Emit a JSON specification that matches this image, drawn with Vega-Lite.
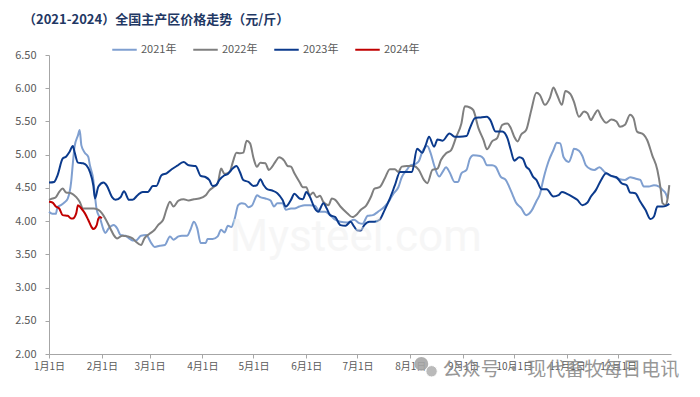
{
"$schema":"https://vega.github.io/schema/vega-lite/v6.json",
"width":622,"height":299,
"autosize":{"type":"none"},
"padding":{"left":49,"top":55,"right":29,"bottom":43},
"background":"white",
"config":{"view":{"stroke":null},"font":"Noto Sans CJK SC","axis":{"labelOverlap":false,"labelFlush":false,"grid":false,"title":null,"domainColor":"#a6a6a6","tickColor":"#a6a6a6","tickSize":4,"labelColor":"#595959"},"axisX":{"labelFontSize":10,"labelPadding":3},"axisY":{"labelFontSize":11,"labelPadding":9}},
"title":{"text":"（2021-2024）全国主产区价格走势（元/斤）","anchor":"start","frame":"group","dx":-26,"offset":9,"font":"Noto Sans CJK SC","fontSize":13,"fontWeight":"bold","color":"#1f3864"},
"datasets":{"prices":[
{"year":"2021年","day":0,"price":4.14},{"year":"2021年","day":2,"price":4.11},{"year":"2021年","day":4,"price":4.11},{"year":"2021年","day":5,"price":4.21},{"year":"2021年","day":7,"price":4.24},{"year":"2021年","day":9,"price":4.28},{"year":"2021年","day":11,"price":4.34},{"year":"2021年","day":13,"price":4.59},{"year":"2021年","day":14,"price":4.87},{"year":"2021年","day":15,"price":5.12},{"year":"2021年","day":17,"price":5.29},{"year":"2021年","day":18,"price":5.37},{"year":"2021年","day":19,"price":5.14},{"year":"2021年","day":21,"price":5.03},{"year":"2021年","day":23,"price":4.97},{"year":"2021年","day":24,"price":4.84},{"year":"2021年","day":26,"price":4.62},{"year":"2021年","day":27,"price":4.37},{"year":"2021年","day":28,"price":4.17},{"year":"2021年","day":30,"price":4.04},{"year":"2021年","day":32,"price":3.87},{"year":"2021年","day":33,"price":3.82},{"year":"2021年","day":35,"price":3.89},{"year":"2021年","day":38,"price":3.94},{"year":"2021年","day":40,"price":3.89},{"year":"2021年","day":42,"price":3.79},{"year":"2021年","day":45,"price":3.78},{"year":"2021年","day":47,"price":3.74},{"year":"2021年","day":49,"price":3.71},{"year":"2021年","day":51,"price":3.71},{"year":"2021年","day":54,"price":3.78},{"year":"2021年","day":57,"price":3.79},{"year":"2021年","day":60,"price":3.67},{"year":"2021年","day":62,"price":3.61},{"year":"2021年","day":65,"price":3.63},{"year":"2021年","day":68,"price":3.64},{"year":"2021年","day":71,"price":3.77},{"year":"2021年","day":73,"price":3.72},{"year":"2021年","day":76,"price":3.77},{"year":"2021年","day":78,"price":3.78},{"year":"2021年","day":81,"price":3.78},{"year":"2021年","day":83,"price":3.87},{"year":"2021年","day":85,"price":3.99},{"year":"2021年","day":87,"price":3.89},{"year":"2021年","day":89,"price":3.67},{"year":"2021年","day":92,"price":3.67},{"year":"2021年","day":93,"price":3.73},{"year":"2021年","day":96,"price":3.73},{"year":"2021年","day":99,"price":3.77},{"year":"2021年","day":101,"price":3.87},{"year":"2021年","day":103,"price":3.83},{"year":"2021年","day":105,"price":3.93},{"year":"2021年","day":107,"price":3.91},{"year":"2021年","day":109,"price":4.04},{"year":"2021年","day":111,"price":4.24},{"year":"2021年","day":113,"price":4.27},{"year":"2021年","day":115,"price":4.26},{"year":"2021年","day":117,"price":4.21},{"year":"2021年","day":119,"price":4.23},{"year":"2021年","day":121,"price":4.34},{"year":"2021年","day":122,"price":4.39},{"year":"2021年","day":124,"price":4.36},{"year":"2021年","day":127,"price":4.34},{"year":"2021年","day":130,"price":4.31},{"year":"2021年","day":132,"price":4.22},{"year":"2021年","day":134,"price":4.27},{"year":"2021年","day":137,"price":4.27},{"year":"2021年","day":139,"price":4.17},{"year":"2021年","day":142,"price":4.19},{"year":"2021年","day":144,"price":4.19},{"year":"2021年","day":147,"price":4.22},{"year":"2021年","day":150,"price":4.24},{"year":"2021年","day":153,"price":4.24},{"year":"2021年","day":156,"price":4.23},{"year":"2021年","day":159,"price":4.14},{"year":"2021年","day":162,"price":4.14},{"year":"2021年","day":165,"price":4.09},{"year":"2021年","day":168,"price":4.02},{"year":"2021年","day":171,"price":3.99},{"year":"2021年","day":175,"price":3.98},{"year":"2021年","day":179,"price":4.02},{"year":"2021年","day":182,"price":3.97},{"year":"2021年","day":184,"price":3.96},{"year":"2021年","day":187,"price":4.08},{"year":"2021年","day":190,"price":4.09},{"year":"2021年","day":193,"price":4.14},{"year":"2021年","day":197,"price":4.22},{"year":"2021年","day":200,"price":4.32},{"year":"2021年","day":202,"price":4.41},{"year":"2021年","day":205,"price":4.51},{"year":"2021年","day":207,"price":4.66},{"year":"2021年","day":210,"price":4.77},{"year":"2021年","day":212,"price":4.84},{"year":"2021年","day":215,"price":4.86},{"year":"2021年","day":217,"price":4.9},{"year":"2021年","day":219,"price":5.04},{"year":"2021年","day":222,"price":5.13},{"year":"2021年","day":224,"price":5.02},{"year":"2021年","day":226,"price":4.84},{"year":"2021年","day":229,"price":4.67},{"year":"2021年","day":231,"price":4.74},{"year":"2021年","day":233,"price":4.81},{"year":"2021年","day":235,"price":4.74},{"year":"2021年","day":238,"price":4.59},{"year":"2021年","day":240,"price":4.59},{"year":"2021年","day":242,"price":4.72},{"year":"2021年","day":245,"price":4.77},{"year":"2021年","day":247,"price":4.94},{"year":"2021年","day":249,"price":4.99},{"year":"2021年","day":253,"price":4.98},{"year":"2021年","day":255,"price":4.94},{"year":"2021年","day":257,"price":4.84},{"year":"2021年","day":260,"price":4.84},{"year":"2021年","day":262,"price":4.82},{"year":"2021年","day":265,"price":4.67},{"year":"2021年","day":268,"price":4.62},{"year":"2021年","day":270,"price":4.52},{"year":"2021年","day":272,"price":4.4},{"year":"2021年","day":274,"price":4.28},{"year":"2021年","day":277,"price":4.2},{"year":"2021年","day":280,"price":4.09},{"year":"2021年","day":283,"price":4.15},{"year":"2021年","day":286,"price":4.3},{"year":"2021年","day":288,"price":4.4},{"year":"2021年","day":290,"price":4.62},{"year":"2021年","day":291,"price":4.72},{"year":"2021年","day":293,"price":4.89},{"year":"2021年","day":296,"price":5.07},{"year":"2021年","day":298,"price":5.18},{"year":"2021年","day":300,"price":5.17},{"year":"2021年","day":302,"price":4.96},{"year":"2021年","day":305,"price":4.89},{"year":"2021年","day":307,"price":5.01},{"year":"2021年","day":308,"price":5.09},{"year":"2021年","day":311,"price":5.06},{"year":"2021年","day":313,"price":4.98},{"year":"2021年","day":315,"price":4.84},{"year":"2021年","day":318,"price":4.78},{"year":"2021年","day":320,"price":4.77},{"year":"2021年","day":323,"price":4.81},{"year":"2021年","day":326,"price":4.74},{"year":"2021年","day":329,"price":4.69},{"year":"2021年","day":332,"price":4.66},{"year":"2021年","day":335,"price":4.63},{"year":"2021年","day":338,"price":4.62},{"year":"2021年","day":341,"price":4.66},{"year":"2021年","day":344,"price":4.64},{"year":"2021年","day":347,"price":4.62},{"year":"2021年","day":349,"price":4.52},{"year":"2021年","day":352,"price":4.52},{"year":"2021年","day":355,"price":4.54},{"year":"2021年","day":358,"price":4.52},{"year":"2021年","day":360,"price":4.47},{"year":"2021年","day":362,"price":4.41},{"year":"2021年","day":363,"price":4.34},
{"year":"2022年","day":0,"price":4.32},{"year":"2022年","day":2,"price":4.34},{"year":"2022年","day":4,"price":4.36},{"year":"2022年","day":6,"price":4.44},{"year":"2022年","day":8,"price":4.49},{"year":"2022年","day":10,"price":4.43},{"year":"2022年","day":13,"price":4.42},{"year":"2022年","day":16,"price":4.36},{"year":"2022年","day":18,"price":4.29},{"year":"2022年","day":20,"price":4.19},{"year":"2022年","day":23,"price":4.19},{"year":"2022年","day":26,"price":4.19},{"year":"2022年","day":29,"price":4.17},{"year":"2022年","day":31,"price":4.12},{"year":"2022年","day":33,"price":4.04},{"year":"2022年","day":36,"price":3.89},{"year":"2022年","day":38,"price":3.79},{"year":"2022年","day":40,"price":3.74},{"year":"2022年","day":43,"price":3.78},{"year":"2022年","day":46,"price":3.77},{"year":"2022年","day":49,"price":3.74},{"year":"2022年","day":51,"price":3.69},{"year":"2022年","day":54,"price":3.64},{"year":"2022年","day":56,"price":3.74},{"year":"2022年","day":59,"price":3.81},{"year":"2022年","day":62,"price":3.87},{"year":"2022年","day":64,"price":3.94},{"year":"2022年","day":67,"price":4.02},{"year":"2022年","day":69,"price":4.18},{"year":"2022年","day":71,"price":4.29},{"year":"2022年","day":73,"price":4.22},{"year":"2022年","day":76,"price":4.31},{"year":"2022年","day":79,"price":4.33},{"year":"2022年","day":82,"price":4.31},{"year":"2022年","day":85,"price":4.33},{"year":"2022年","day":88,"price":4.34},{"year":"2022年","day":92,"price":4.39},{"year":"2022年","day":94,"price":4.46},{"year":"2022年","day":97,"price":4.52},{"year":"2022年","day":99,"price":4.57},{"year":"2022年","day":101,"price":4.79},{"year":"2022年","day":103,"price":4.71},{"year":"2022年","day":106,"price":4.74},{"year":"2022年","day":108,"price":4.9},{"year":"2022年","day":110,"price":5.03},{"year":"2022年","day":112,"price":5.02},{"year":"2022年","day":114,"price":5.03},{"year":"2022年","day":116,"price":5.21},{"year":"2022年","day":118,"price":5.17},{"year":"2022年","day":120,"price":4.95},{"year":"2022年","day":122,"price":4.82},{"year":"2022年","day":124,"price":4.88},{"year":"2022年","day":127,"price":4.87},{"year":"2022年","day":129,"price":4.77},{"year":"2022年","day":131,"price":4.82},{"year":"2022年","day":133,"price":4.9},{"year":"2022年","day":135,"price":4.96},{"year":"2022年","day":138,"price":4.91},{"year":"2022年","day":140,"price":4.83},{"year":"2022年","day":142,"price":4.82},{"year":"2022年","day":144,"price":4.72},{"year":"2022年","day":147,"price":4.59},{"year":"2022年","day":149,"price":4.51},{"year":"2022年","day":151,"price":4.51},{"year":"2022年","day":153,"price":4.39},{"year":"2022年","day":155,"price":4.43},{"year":"2022年","day":157,"price":4.36},{"year":"2022年","day":159,"price":4.38},{"year":"2022年","day":161,"price":4.29},{"year":"2022年","day":164,"price":4.24},{"year":"2022年","day":166,"price":4.34},{"year":"2022年","day":168,"price":4.32},{"year":"2022年","day":171,"price":4.22},{"year":"2022年","day":175,"price":4.12},{"year":"2022年","day":178,"price":4.06},{"year":"2022年","day":181,"price":4.11},{"year":"2022年","day":183,"price":4.17},{"year":"2022年","day":186,"price":4.23},{"year":"2022年","day":189,"price":4.37},{"year":"2022年","day":191,"price":4.49},{"year":"2022年","day":194,"price":4.51},{"year":"2022年","day":197,"price":4.64},{"year":"2022年","day":200,"price":4.78},{"year":"2022年","day":203,"price":4.78},{"year":"2022年","day":205,"price":4.74},{"year":"2022年","day":207,"price":4.82},{"year":"2022年","day":210,"price":4.83},{"year":"2022年","day":214,"price":4.83},{"year":"2022年","day":217,"price":4.77},{"year":"2022年","day":220,"price":4.62},{"year":"2022年","day":222,"price":4.57},{"year":"2022年","day":225,"price":4.77},{"year":"2022年","day":228,"price":4.79},{"year":"2022年","day":230,"price":4.92},{"year":"2022年","day":233,"price":5.02},{"year":"2022年","day":236,"price":5.07},{"year":"2022年","day":239,"price":5.27},{"year":"2022年","day":242,"price":5.47},{"year":"2022年","day":244,"price":5.73},{"year":"2022年","day":247,"price":5.71},{"year":"2022年","day":249,"price":5.67},{"year":"2022年","day":252,"price":5.4},{"year":"2022年","day":255,"price":5.22},{"year":"2022年","day":257,"price":5.08},{"year":"2022年","day":260,"price":5.2},{"year":"2022年","day":263,"price":5.25},{"year":"2022年","day":266,"price":5.45},{"year":"2022年","day":269,"price":5.47},{"year":"2022年","day":271,"price":5.4},{"year":"2022年","day":273,"price":5.27},{"year":"2022年","day":275,"price":5.2},{"year":"2022年","day":277,"price":5.3},{"year":"2022年","day":280,"price":5.37},{"year":"2022年","day":283,"price":5.67},{"year":"2022年","day":286,"price":5.93},{"year":"2022年","day":288,"price":5.9},{"year":"2022年","day":291,"price":5.75},{"year":"2022年","day":294,"price":5.86},{"year":"2022年","day":296,"price":6.01},{"year":"2022年","day":298,"price":5.91},{"year":"2022年","day":301,"price":5.75},{"year":"2022年","day":303,"price":5.96},{"year":"2022年","day":306,"price":5.91},{"year":"2022年","day":308,"price":5.8},{"year":"2022年","day":311,"price":5.57},{"year":"2022年","day":314,"price":5.65},{"year":"2022年","day":316,"price":5.62},{"year":"2022年","day":318,"price":5.52},{"year":"2022年","day":320,"price":5.6},{"year":"2022年","day":322,"price":5.67},{"year":"2022年","day":324,"price":5.57},{"year":"2022年","day":327,"price":5.48},{"year":"2022年","day":330,"price":5.53},{"year":"2022年","day":333,"price":5.5},{"year":"2022年","day":335,"price":5.42},{"year":"2022年","day":338,"price":5.45},{"year":"2022年","day":341,"price":5.6},{"year":"2022年","day":343,"price":5.55},{"year":"2022年","day":345,"price":5.35},{"year":"2022年","day":349,"price":5.3},{"year":"2022年","day":351,"price":5.22},{"year":"2022年","day":354,"price":4.99},{"year":"2022年","day":357,"price":4.77},{"year":"2022年","day":359,"price":4.47},{"year":"2022年","day":360,"price":4.27},{"year":"2022年","day":362,"price":4.24},{"year":"2022年","day":363,"price":4.34},{"year":"2022年","day":364,"price":4.54},
{"year":"2023年","day":0,"price":4.58},{"year":"2023年","day":3,"price":4.59},{"year":"2023年","day":5,"price":4.69},{"year":"2023年","day":8,"price":4.94},{"year":"2023年","day":10,"price":4.97},{"year":"2023年","day":12,"price":5.04},{"year":"2023年","day":14,"price":5.13},{"year":"2023年","day":15,"price":5.04},{"year":"2023年","day":17,"price":4.88},{"year":"2023年","day":20,"price":4.87},{"year":"2023年","day":22,"price":4.84},{"year":"2023年","day":24,"price":4.74},{"year":"2023年","day":26,"price":4.54},{"year":"2023年","day":27,"price":4.34},{"year":"2023年","day":29,"price":4.52},{"year":"2023年","day":32,"price":4.58},{"year":"2023年","day":34,"price":4.53},{"year":"2023年","day":37,"price":4.36},{"year":"2023年","day":39,"price":4.32},{"year":"2023年","day":42,"price":4.36},{"year":"2023年","day":44,"price":4.45},{"year":"2023年","day":47,"price":4.32},{"year":"2023年","day":49,"price":4.32},{"year":"2023年","day":52,"price":4.39},{"year":"2023年","day":55,"price":4.44},{"year":"2023年","day":58,"price":4.44},{"year":"2023年","day":61,"price":4.53},{"year":"2023年","day":63,"price":4.53},{"year":"2023年","day":66,"price":4.69},{"year":"2023年","day":69,"price":4.72},{"year":"2023年","day":72,"price":4.78},{"year":"2023年","day":75,"price":4.83},{"year":"2023年","day":79,"price":4.89},{"year":"2023年","day":82,"price":4.84},{"year":"2023年","day":86,"price":4.83},{"year":"2023年","day":89,"price":4.68},{"year":"2023年","day":92,"price":4.66},{"year":"2023年","day":94,"price":4.62},{"year":"2023年","day":96,"price":4.53},{"year":"2023年","day":98,"price":4.54},{"year":"2023年","day":100,"price":4.62},{"year":"2023年","day":103,"price":4.69},{"year":"2023年","day":105,"price":4.71},{"year":"2023年","day":107,"price":4.77},{"year":"2023年","day":110,"price":4.83},{"year":"2023年","day":112,"price":4.74},{"year":"2023年","day":114,"price":4.62},{"year":"2023年","day":117,"price":4.59},{"year":"2023年","day":120,"price":4.53},{"year":"2023年","day":122,"price":4.54},{"year":"2023年","day":124,"price":4.63},{"year":"2023年","day":126,"price":4.54},{"year":"2023年","day":128,"price":4.48},{"year":"2023年","day":131,"price":4.46},{"year":"2023年","day":134,"price":4.42},{"year":"2023年","day":137,"price":4.32},{"year":"2023年","day":139,"price":4.22},{"year":"2023年","day":142,"price":4.32},{"year":"2023年","day":144,"price":4.41},{"year":"2023年","day":147,"price":4.34},{"year":"2023年","day":149,"price":4.33},{"year":"2023年","day":151,"price":4.44},{"year":"2023年","day":153,"price":4.37},{"year":"2023年","day":156,"price":4.19},{"year":"2023年","day":158,"price":4.14},{"year":"2023年","day":161,"price":4.27},{"year":"2023年","day":163,"price":4.19},{"year":"2023年","day":165,"price":4.09},{"year":"2023年","day":168,"price":4.06},{"year":"2023年","day":171,"price":3.94},{"year":"2023年","day":174,"price":3.93},{"year":"2023年","day":177,"price":3.99},{"year":"2023年","day":179,"price":3.92},{"year":"2023年","day":181,"price":3.86},{"year":"2023年","day":183,"price":3.86},{"year":"2023年","day":185,"price":3.94},{"year":"2023年","day":188,"price":3.99},{"year":"2023年","day":191,"price":3.99},{"year":"2023年","day":194,"price":4.02},{"year":"2023年","day":197,"price":4.17},{"year":"2023年","day":200,"price":4.34},{"year":"2023年","day":203,"price":4.54},{"year":"2023年","day":206,"price":4.74},{"year":"2023年","day":209,"price":4.74},{"year":"2023年","day":213,"price":4.74},{"year":"2023年","day":216,"price":5.09},{"year":"2023年","day":219,"price":5.03},{"year":"2023年","day":221,"price":5.14},{"year":"2023年","day":223,"price":5.27},{"year":"2023年","day":226,"price":5.12},{"year":"2023年","day":228,"price":5.23},{"year":"2023年","day":231,"price":5.21},{"year":"2023年","day":235,"price":5.32},{"year":"2023年","day":238,"price":5.27},{"year":"2023年","day":241,"price":5.27},{"year":"2023年","day":245,"price":5.28},{"year":"2023年","day":247,"price":5.4},{"year":"2023年","day":250,"price":5.55},{"year":"2023年","day":253,"price":5.56},{"year":"2023年","day":257,"price":5.57},{"year":"2023年","day":259,"price":5.52},{"year":"2023年","day":262,"price":5.35},{"year":"2023年","day":266,"price":5.35},{"year":"2023年","day":269,"price":5.25},{"year":"2023年","day":271,"price":5.07},{"year":"2023年","day":273,"price":4.91},{"year":"2023年","day":276,"price":4.96},{"year":"2023年","day":278,"price":4.94},{"year":"2023年","day":280,"price":4.82},{"year":"2023年","day":282,"price":4.77},{"year":"2023年","day":284,"price":4.67},{"year":"2023年","day":286,"price":4.62},{"year":"2023年","day":289,"price":4.48},{"year":"2023年","day":292,"price":4.48},{"year":"2023年","day":296,"price":4.37},{"year":"2023年","day":299,"price":4.39},{"year":"2023年","day":301,"price":4.44},{"year":"2023年","day":304,"price":4.41},{"year":"2023年","day":307,"price":4.37},{"year":"2023年","day":310,"price":4.32},{"year":"2023年","day":313,"price":4.24},{"year":"2023年","day":316,"price":4.28},{"year":"2023年","day":318,"price":4.37},{"year":"2023年","day":321,"price":4.47},{"year":"2023年","day":324,"price":4.62},{"year":"2023年","day":327,"price":4.72},{"year":"2023年","day":330,"price":4.68},{"year":"2023年","day":333,"price":4.66},{"year":"2023年","day":336,"price":4.57},{"year":"2023年","day":339,"price":4.54},{"year":"2023年","day":341,"price":4.43},{"year":"2023年","day":344,"price":4.42},{"year":"2023年","day":347,"price":4.29},{"year":"2023年","day":350,"price":4.17},{"year":"2023年","day":353,"price":4.03},{"year":"2023年","day":355,"price":4.07},{"year":"2023年","day":357,"price":4.22},{"year":"2023年","day":360,"price":4.22},{"year":"2023年","day":362,"price":4.23},{"year":"2023年","day":364,"price":4.26},
{"year":"2024年","day":0,"price":4.29},{"year":"2024年","day":2,"price":4.28},{"year":"2024年","day":4,"price":4.22},{"year":"2024年","day":6,"price":4.19},{"year":"2024年","day":8,"price":4.09},{"year":"2024年","day":11,"price":4.08},{"year":"2024年","day":13,"price":4.04},{"year":"2024年","day":14,"price":4.04},{"year":"2024年","day":16,"price":4.12},{"year":"2024年","day":17,"price":4.24},{"year":"2024年","day":19,"price":4.19},{"year":"2024年","day":21,"price":4.12},{"year":"2024年","day":23,"price":4.02},{"year":"2024年","day":25,"price":3.91},{"year":"2024年","day":26,"price":3.88},{"year":"2024年","day":28,"price":3.94},{"year":"2024年","day":29,"price":4.04},{"year":"2024年","day":30,"price":4.06},{"year":"2024年","day":31,"price":4.04}
]},
"layer":[
{"data":{"name":"prices"},
 "mark":{"type":"line","strokeWidth":2,"interpolate":"monotone"},
 "encoding":{
  "x":{"field":"day","type":"quantitative","scale":{"domain":[0,365],"nice":false,"zero":false},
   "axis":{"values":[0,31,59,90,120,151,181,212,243,273,304,334],"labelOverlap":false,
    "labelExpr":"['1月1日','2月1日','3月1日','4月1日','5月1日','6月1日','7月1日','8月1日','9月1日','10月1日','11月1日','12月1日'][indexof([0,31,59,90,120,151,181,212,243,273,304,334], datum.value)]"}},
  "y":{"field":"price","type":"quantitative","scale":{"domain":[2,6.5],"nice":false,"zero":false},
   "axis":{"values":[2,2.5,3,3.5,4,4.5,5,5.5,6,6.5],"format":".2f","labelOverlap":false}},
  "color":{"field":"year","type":"nominal",
   "scale":{"domain":["2021年","2022年","2023年","2024年"],"range":["#7f9fd0","#7f7f7f","#0b3a8c","#c00000"]},
   "legend":{"orient":"none","legendX":62,"legendY":-19,"direction":"horizontal","title":null,"symbolType":"stroke","symbolSize":600,"symbolStrokeWidth":2,"labelFontSize":11,"labelColor":"#595959","columnPadding":12,"labelOffset":3}}
 }},
{"data":{"values":[{"label":"Mysteel.com"}]},
 "mark":{"type":"text","fontSize":44,"font":"Roboto","color":"#eeeeee","opacity":0.5,"align":"center","baseline":"middle"},
 "encoding":{
  "x":{"datum":180,"type":"quantitative","scale":{"domain":[0,365],"nice":false,"zero":false},
   "axis":{"values":[0,31,59,90,120,151,181,212,243,273,304,334],"labelOverlap":false,
    "labelExpr":"['1月1日','2月1日','3月1日','4月1日','5月1日','6月1日','7月1日','8月1日','9月1日','10月1日','11月1日','12月1日'][indexof([0,31,59,90,120,151,181,212,243,273,304,334], datum.value)]"}},
  "y":{"datum":3.75,"type":"quantitative","scale":{"domain":[2,6.5],"nice":false,"zero":false},
   "axis":{"values":[2,2.5,3,3.5,4,4.5,5,5.5,6,6.5],"format":".2f","labelOverlap":false}},
  "text":{"field":"label"}}},
{"data":{"values":[{"label":"logo"}]},
 "mark":{"type":"point","shape":"circle","filled":true,"color":"#a6a6a6","opacity":0.9,"size":190},
 "encoding":{
  "x":{"datum":218.5,"type":"quantitative","scale":{"domain":[0,365],"nice":false,"zero":false},
   "axis":{"values":[0,31,59,90,120,151,181,212,243,273,304,334],"labelOverlap":false,
    "labelExpr":"['1月1日','2月1日','3月1日','4月1日','5月1日','6月1日','7月1日','8月1日','9月1日','10月1日','11月1日','12月1日'][indexof([0,31,59,90,120,151,181,212,243,273,304,334], datum.value)]"}},
  "y":{"datum":1.85,"type":"quantitative","scale":{"domain":[2,6.5],"nice":false,"zero":false},
   "axis":{"values":[2,2.5,3,3.5,4,4.5,5,5.5,6,6.5],"format":".2f","labelOverlap":false}}}},
{"data":{"values":[{"label":"logo"}]},
 "mark":{"type":"point","shape":"circle","filled":true,"color":"#b3b3b3","opacity":0.9,"size":130,"stroke":"white","strokeWidth":1},
 "encoding":{
  "x":{"datum":224.5,"type":"quantitative","scale":{"domain":[0,365],"nice":false,"zero":false},
   "axis":{"values":[0,31,59,90,120,151,181,212,243,273,304,334],"labelOverlap":false,
    "labelExpr":"['1月1日','2月1日','3月1日','4月1日','5月1日','6月1日','7月1日','8月1日','9月1日','10月1日','11月1日','12月1日'][indexof([0,31,59,90,120,151,181,212,243,273,304,334], datum.value)]"}},
  "y":{"datum":1.74,"type":"quantitative","scale":{"domain":[2,6.5],"nice":false,"zero":false},
   "axis":{"values":[2,2.5,3,3.5,4,4.5,5,5.5,6,6.5],"format":".2f","labelOverlap":false}}}},
{"data":{"values":[{"label":"公众号 · 现代畜牧每日电讯"}]},
 "mark":{"type":"text","fontSize":19,"color":"#8c8c8c","opacity":0.9,"align":"center","baseline":"middle"},
 "encoding":{
  "x":{"datum":300.5,"type":"quantitative","scale":{"domain":[0,365],"nice":false,"zero":false},
   "axis":{"values":[0,31,59,90,120,151,181,212,243,273,304,334],"labelOverlap":false,
    "labelExpr":"['1月1日','2月1日','3月1日','4月1日','5月1日','6月1日','7月1日','8月1日','9月1日','10月1日','11月1日','12月1日'][indexof([0,31,59,90,120,151,181,212,243,273,304,334], datum.value)]"}},
  "y":{"datum":1.76,"type":"quantitative","scale":{"domain":[2,6.5],"nice":false,"zero":false},
   "axis":{"values":[2,2.5,3,3.5,4,4.5,5,5.5,6,6.5],"format":".2f","labelOverlap":false}},
  "text":{"field":"label"}}}
]
}
